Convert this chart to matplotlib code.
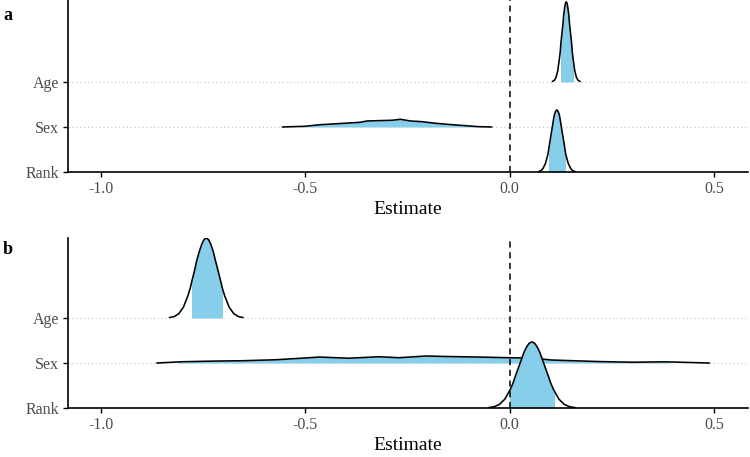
import matplotlib
matplotlib.use("Agg")
import matplotlib.pyplot as plt
from matplotlib.patches import Rectangle

plt.rcParams['font.family'] = ['Liberation Serif', 'DejaVu Serif']
plt.rcParams['axes.unicode_minus'] = False

# rows (bottom to top)
rows = ['Rank', 'Sex', 'Age']
xticks = [-1.0, -0.5, 0.0, 0.5]
xtick_labels = ['-1.0', '-0.5', '0.0', '0.5']

# ---- panel a : density outlines (height in row units)
a_age_x = [0.104, 0.109, 0.113, 0.117, 0.121, 0.1233, 0.125, 0.1275, 0.130, 0.1317,
           0.134, 0.1359, 0.138, 0.1401, 0.142, 0.1443, 0.146, 0.1485, 0.151, 0.1527,
           0.155, 0.159, 0.163, 0.167, 0.172]
a_age_h = [0.011, 0.035, 0.100, 0.240, 0.495, 0.667, 0.867, 1.080, 1.292, 1.487,
           1.643, 1.744, 1.78, 1.744, 1.643, 1.487, 1.292, 1.080, 0.867, 0.667,
           0.495, 0.240, 0.100, 0.035, 0.011]
a_sex_x = [-0.556, -0.502, -0.463, -0.405, -0.366, -0.349, -0.324, -0.288,
           -0.267, -0.243, -0.215, -0.181, -0.141, -0.108, -0.076, -0.044]
a_sex_h = [0.0, 0.015, 0.051, 0.082, 0.104, 0.133, 0.14, 0.149,
           0.171, 0.133, 0.118, 0.082, 0.051, 0.029, 0.007, 0.0]
a_rank_x = [0.070, 0.076, 0.081, 0.087, 0.093, 0.0954, 0.098, 0.101, 0.104, 0.1066,
            0.109, 0.1122, 0.115, 0.1178, 0.121, 0.1234, 0.126, 0.129, 0.132, 0.1346,
            0.137, 0.143, 0.149, 0.154, 0.160]
a_rank_h = [0.008, 0.027, 0.077, 0.186, 0.384, 0.518, 0.672, 0.837, 1.002, 1.153,
            1.274, 1.352, 1.38, 1.352, 1.274, 1.153, 1.002, 0.837, 0.672, 0.518,
            0.384, 0.186, 0.077, 0.027, 0.008]
a_intervals = {'Age': (0.126, 0.154), 'Sex': (-0.51, -0.07), 'Rank': (0.095, 0.136)}

# ---- panel b
b_age_x = [-0.832, -0.820, -0.809, -0.798, -0.787, -0.7812, -0.776, -0.770, -0.765,
           -0.7588, -0.753, -0.7476, -0.742, -0.7364, -0.731, -0.7252, -0.720, -0.714,
           -0.708, -0.7028, -0.697, -0.686, -0.675, -0.664, -0.652]
b_age_h = [0.011, 0.035, 0.100, 0.240, 0.495, 0.667, 0.867, 1.080, 1.292,
           1.487, 1.643, 1.744, 1.78, 1.744, 1.643, 1.487, 1.292, 1.080,
           0.867, 0.667, 0.495, 0.240, 0.100, 0.035, 0.011]
b_sex_x = [-0.863, -0.800, -0.717, -0.654, -0.571, -0.515, -0.466, -0.393, -0.320,
           -0.271, -0.205, -0.149, -0.076, -0.002, 0.054, 0.102, 0.217, 0.298,
           0.380, 0.488]
b_sex_h = [0.0, 0.029, 0.044, 0.051, 0.073, 0.104, 0.133, 0.107, 0.14,
           0.118, 0.156, 0.144, 0.133, 0.118, 0.111, 0.067, 0.033, 0.018,
           0.027, 0.0]
b_rank_x = [-0.052, -0.038, -0.025, -0.012, 0.001, 0.0078, 0.014, 0.021, 0.028,
            0.0342, 0.041, 0.0474, 0.054, 0.0606, 0.067, 0.0738, 0.080, 0.087,
            0.094, 0.1002, 0.107, 0.120, 0.133, 0.146, 0.160]
b_rank_h = [0.009, 0.029, 0.082, 0.198, 0.409, 0.551, 0.716, 0.892, 1.067,
            1.228, 1.357, 1.441, 1.47, 1.441, 1.357, 1.228, 1.067, 0.892,
            0.716, 0.551, 0.409, 0.198, 0.082, 0.029, 0.009]
b_intervals = {'Age': (-0.776, -0.704), 'Sex': (-0.81, 0.39), 'Rank': (0.0, 0.107)}

panels = [
    ('a', {'Age': (a_age_x, a_age_h), 'Sex': (a_sex_x, a_sex_h), 'Rank': (a_rank_x, a_rank_h)},
     a_intervals, [0.0907, 0.6236, 0.907, 0.3764], 3.82),
    ('b', {'Age': (b_age_x, b_age_h), 'Sex': (b_sex_x, b_sex_h), 'Rank': (b_rank_x, b_rank_h)},
     b_intervals, [0.0907, 0.1072, 0.907, 0.372], 3.78),
]

fig = plt.figure(figsize=(7.5, 4.57), dpi=100)

for tag, curves, intervals, rect, ytop in panels:
    ax = fig.add_axes(rect)
    for name in ['Age', 'Sex', 'Rank']:
        k = rows.index(name)
        z = 3 + (2 - k)
        xs, hs = curves[name]
        top = [k + h for h in hs]
        ax.fill_between(xs, k, top, color='white', lw=0, zorder=z)
        lo, hi = intervals[name]
        blue = ax.fill_between(xs, k, top, color='#87CEEB', lw=0, zorder=z)
        clip = Rectangle((lo, k - 0.1), hi - lo, 3, transform=ax.transData)
        blue.set_clip_path(clip)
        ax.plot(xs, top, color='black', lw=1.15, zorder=z,
                solid_joinstyle='round', solid_capstyle='round')
    for k in [1, 2]:
        ax.axhline(k, color='#C4C4C4', lw=0.8, ls=(0, (1, 2.5)), zorder=1)
    ax.axvline(0, color='black', lw=1.1, ls=(0, (4, 3)), zorder=10)

    ax.set_xlim(-1.08, 0.583)
    ax.set_ylim(0, ytop)
    ax.set_xticks(xticks)
    ax.set_xticklabels(xtick_labels)
    ax.set_yticks([0, 1, 2])
    ax.set_yticklabels(rows)
    ax.tick_params(length=3.5, width=1.0, pad=3, labelsize=11.5, labelcolor='#4D4D4D')
    for s in ['top', 'right']:
        ax.spines[s].set_visible(False)
    for s in ['left', 'bottom']:
        ax.spines[s].set_linewidth(1.2)
        ax.spines[s].set_zorder(12)
    ax.set_xlabel('Estimate', fontsize=14, labelpad=3)

fig.text(0.004, 0.985, 'a', fontsize=13, fontweight='bold', va='top')
fig.text(0.004, 0.473, 'b', fontsize=13, fontweight='bold', va='top')

fig.savefig('out.png', dpi=100)
